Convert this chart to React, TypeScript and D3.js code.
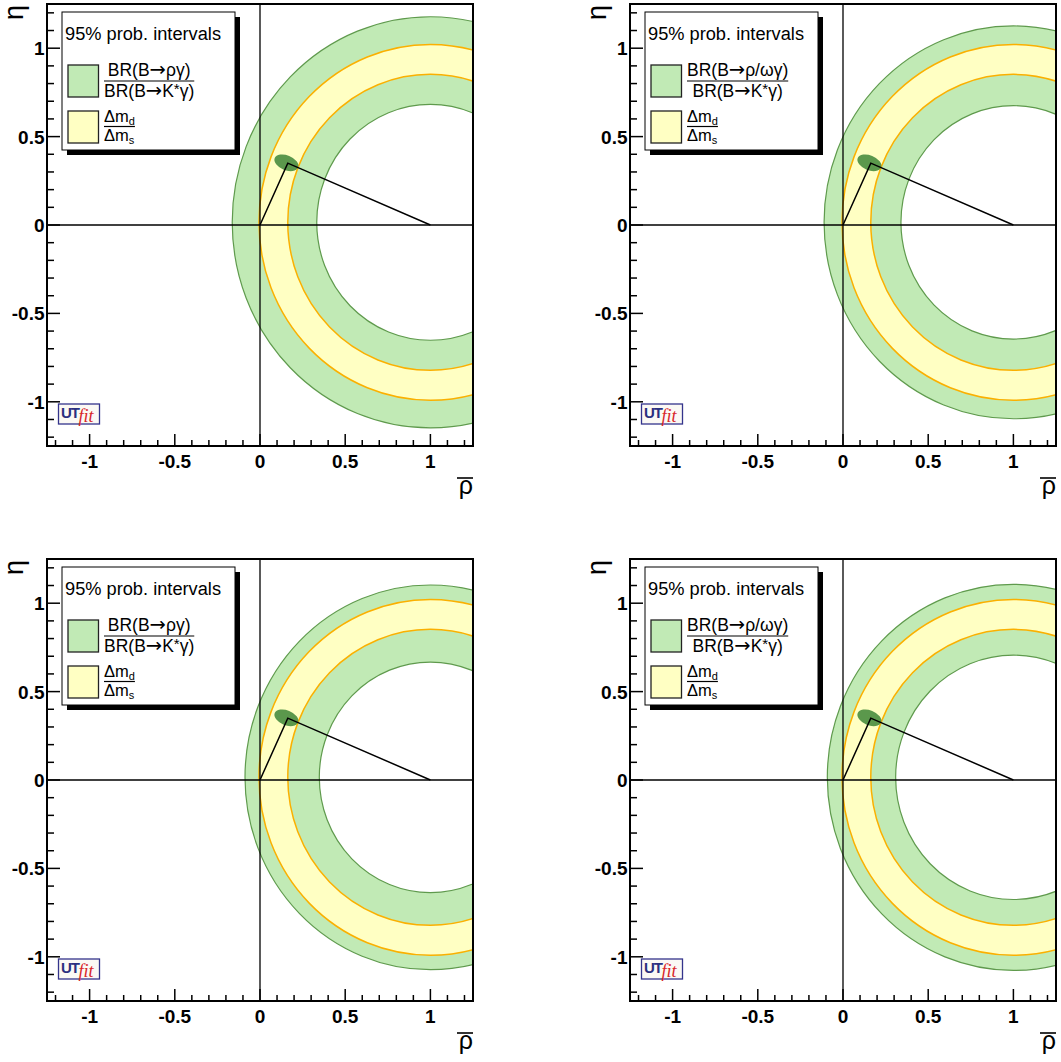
import React, { useEffect, useRef } from "react";
import * as d3 from "d3";

const W = 1061;
const H = 1062;

// ---- data ----
const panelNames = ["top-left", "top-right", "bottom-left", "bottom-right"];
const legendTitle = "95% prob. intervals";
const legendNumerators = [
  ["BR(B", "ργ)"],
  ["BR(B", "ρ/ωγ)"],
  ["BR(B", "ργ)"],
  ["BR(B", "ρ/ωγ)"],
];
const greenOuterR = [1.163, 1.111, 1.088, 1.092];
const greenInnerR = [0.667, 0.66, 0.652, 0.691];
const yellowOuterR = [1.006, 1.006, 1.006, 1.006];
const yellowInnerR = [0.837, 0.837, 0.837, 0.837];
const ringCenter = [1, 0.015];
const apex = [0.163, 0.35];
const blobCenter = [0.155, 0.352];
const blobRadii = [0.074, 0.042];
const blobTilt = 22;
const axisDomain = [-1.25, 1.25];
const majorTicks = [-1, -0.5, 0, 0.5, 1];
const tickLabels = ["-1", "-0.5", "0", "0.5", "1"];

// ---- layout ----
const frames = [
  { x0: 47, x1: 473, y0: 4, y1: 446 },
  { x0: 630, x1: 1056, y0: 4, y1: 446 },
  { x0: 47, x1: 473, y0: 559, y1: 1001 },
  { x0: 630, x1: 1056, y0: 559, y1: 1001 },
];

const GREEN = "#c1eab5";
const GREEN_LINE = "#5f9a4d";
const YELLOW = "#ffffc3";
const ORANGE = "#fbb000";
const BLOB = "#5b984c";
const FONT = "'Liberation Sans', Arial, Helvetica, sans-serif";
const ARROW_FONT = "'DejaVu Sans', sans-serif";

export default function App() {
  const ref = useRef<SVGSVGElement>(null);

  useEffect(() => {
    const svg = d3.select(ref.current);
    svg.selectAll("*").remove();
    const defs = svg.append("defs");

    panelNames.forEach((name, i) => {
      const f = frames[i];
      const x = d3.scaleLinear().domain(axisDomain).range([f.x0, f.x1]);
      const y = d3.scaleLinear().domain(axisDomain).range([f.y1, f.y0]);
      const clipId = `clip-${name}`;
      defs
        .append("clipPath")
        .attr("id", clipId)
        .append("rect")
        .attr("x", f.x0)
        .attr("y", f.y0)
        .attr("width", f.x1 - f.x0)
        .attr("height", f.y1 - f.y0);

      const g = svg.append("g");
      const inner = g.append("g").attr("clip-path", `url(#${clipId})`);

      const ring = (r: number, fill: string, stroke: string, sw: number) =>
        inner
          .append("ellipse")
          .attr("cx", x(ringCenter[0]))
          .attr("cy", y(ringCenter[1]))
          .attr("rx", x(r) - x(0))
          .attr("ry", y(0) - y(r))
          .attr("fill", fill)
          .attr("stroke", stroke)
          .attr("stroke-width", sw);

      ring(greenOuterR[i], GREEN, GREEN_LINE, 1.2);
      ring(yellowOuterR[i], YELLOW, ORANGE, 1.5);
      ring(yellowInnerR[i], GREEN, ORANGE, 1.5);
      ring(greenInnerR[i], "#ffffff", GREEN_LINE, 1.2);

      // zero lines
      inner
        .append("line")
        .attr("x1", f.x0)
        .attr("x2", f.x1)
        .attr("y1", y(0))
        .attr("y2", y(0))
        .attr("stroke", "#000")
        .attr("stroke-width", 1.3);
      inner
        .append("line")
        .attr("x1", x(0))
        .attr("x2", x(0))
        .attr("y1", f.y0)
        .attr("y2", f.y1)
        .attr("stroke", "#000")
        .attr("stroke-width", 1.3);

      // fit blob
      const bx = x(blobCenter[0]);
      const by = y(blobCenter[1]);
      inner
        .append("ellipse")
        .attr("cx", bx)
        .attr("cy", by)
        .attr("rx", x(blobRadii[0]) - x(0))
        .attr("ry", y(0) - y(blobRadii[1]))
        .attr("transform", `rotate(${blobTilt},${bx},${by})`)
        .attr("fill", BLOB);

      // triangle
      const tri = d3.line()([
        [x(0), y(0)],
        [x(apex[0]), y(apex[1])],
        [x(1), y(0)],
      ]);
      inner
        .append("path")
        .attr("d", tri)
        .attr("fill", "none")
        .attr("stroke", "#000")
        .attr("stroke-width", 1.5)
        .attr("stroke-linejoin", "miter");

      // frame
      g.append("rect")
        .attr("x", f.x0)
        .attr("y", f.y0)
        .attr("width", f.x1 - f.x0)
        .attr("height", f.y1 - f.y0)
        .attr("fill", "none")
        .attr("stroke", "#000")
        .attr("stroke-width", 2);

      // ticks
      const isMajor = (t: number) => Math.abs(t * 2 - Math.round(t * 2)) < 1e-6;
      x.ticks(25).forEach((t) => {
        g.append("line")
          .attr("x1", x(t))
          .attr("x2", x(t))
          .attr("y1", f.y1)
          .attr("y2", f.y1 - (isMajor(t) ? 12 : 6))
          .attr("stroke", "#000")
          .attr("stroke-width", 1.5);
      });
      y.ticks(25).forEach((t) => {
        g.append("line")
          .attr("y1", y(t))
          .attr("y2", y(t))
          .attr("x1", f.x0)
          .attr("x2", f.x0 + (isMajor(t) ? 13 : 7))
          .attr("stroke", "#000")
          .attr("stroke-width", 1.5);
      });
      majorTicks.forEach((t, k) => {
        g.append("text")
          .attr("x", x(t))
          .attr("y", f.y1 + 21.5)
          .attr("text-anchor", "middle")
          .attr("font-family", FONT)
          .attr("font-weight", "bold")
          .attr("font-size", 19)
          .text(tickLabels[k]);
        g.append("text")
          .attr("x", f.x0 - 2.5)
          .attr("y", y(t) + 7)
          .attr("text-anchor", "end")
          .attr("font-family", FONT)
          .attr("font-weight", "bold")
          .attr("font-size", 19)
          .text(tickLabels[k]);
      });

      // axis titles
      g.append("text")
        .attr("transform", `translate(${f.x0 - 24},${f.y0 + 1}) rotate(-90)`)
        .attr("text-anchor", "end")
        .attr("font-family", FONT)
        .attr("font-size", 27)
        .text("η");
      g.append("text")
        .attr("x", f.x1)
        .attr("y", f.y1 + 48)
        .attr("text-anchor", "end")
        .attr("font-family", FONT)
        .attr("font-size", 25)
        .text("ρ");
      g.append("line")
        .attr("x1", f.x1 - 16)
        .attr("x2", f.x1)
        .attr("y1", f.y1 + 32)
        .attr("y2", f.y1 + 32)
        .attr("stroke", "#000")
        .attr("stroke-width", 1.6);

      // legend
      const lx = f.x0 + 15;
      const ly = f.y0 + 8;
      const lw = 173;
      const lh = 138;
      g.append("rect").attr("x", lx + 5).attr("y", ly + 5).attr("width", lw).attr("height", lh).attr("fill", "#000");
      g.append("rect")
        .attr("x", lx)
        .attr("y", ly)
        .attr("width", lw)
        .attr("height", lh)
        .attr("fill", "#fff")
        .attr("stroke", "#000")
        .attr("stroke-width", 1);
      g.append("text")
        .attr("x", lx + 3)
        .attr("y", ly + 27.5)
        .attr("font-family", FONT)
        .attr("font-size", 18)
        .attr("textLength", 156)
        .attr("lengthAdjust", "spacingAndGlyphs")
        .text(legendTitle);
      g.append("rect")
        .attr("x", lx + 6)
        .attr("y", ly + 53)
        .attr("width", 30.5)
        .attr("height", 32)
        .attr("fill", GREEN)
        .attr("stroke", "#222")
        .attr("stroke-width", 1.3);
      g.append("rect")
        .attr("x", lx + 6)
        .attr("y", ly + 99)
        .attr("width", 30.5)
        .attr("height", 32)
        .attr("fill", YELLOW)
        .attr("stroke", "#222")
        .attr("stroke-width", 1.3);

      const fx = lx + 42;
      const FS = 17.5;
      const num = g
        .append("text")
        .attr("y", ly + 63.5)
        .attr("text-anchor", "middle")
        .attr("font-family", FONT)
        .attr("font-size", FS);
      num.append("tspan").text(legendNumerators[i][0]);
      num.append("tspan").attr("font-family", ARROW_FONT).attr("font-size", FS + 2).text("→");
      num.append("tspan").text(legendNumerators[i][1]);
      const den = g
        .append("text")
        .attr("y", ly + 85)
        .attr("text-anchor", "middle")
        .attr("font-family", FONT)
        .attr("font-size", FS);
      den.append("tspan").text("BR(B");
      den.append("tspan").attr("font-family", ARROW_FONT).attr("font-size", FS + 2).text("→");
      den.append("tspan").text("K");
      den.append("tspan").attr("dy", -3).attr("font-size", 15).text("*");
      den.append("tspan").attr("dy", 3).text("γ)");
      const wN = (num.node() as SVGTextElement).getComputedTextLength();
      const wD = (den.node() as SVGTextElement).getComputedTextLength();
      const wMax = Math.max(wN, wD);
      num.attr("x", fx + wMax / 2);
      den.attr("x", fx + wMax / 2);
      g.append("line")
        .attr("x1", fx)
        .attr("x2", fx + wMax)
        .attr("y1", ly + 69)
        .attr("y2", ly + 69)
        .attr("stroke", "#000")
        .attr("stroke-width", 1.2);

      const n2 = g.append("text").attr("x", fx).attr("y", ly + 109.5).attr("font-family", FONT).attr("font-size", 16.5);
      n2.append("tspan").text("Δm");
      n2.append("tspan").attr("dy", 3).attr("font-size", 11).text("d");
      const d2 = g.append("text").attr("x", fx).attr("y", ly + 128.5).attr("font-family", FONT).attr("font-size", 16.5);
      d2.append("tspan").text("Δm");
      d2.append("tspan").attr("dy", 3).attr("font-size", 11).text("s");
      const w2 = Math.max(
        (n2.node() as SVGTextElement).getComputedTextLength(),
        (d2.node() as SVGTextElement).getComputedTextLength()
      );
      g.append("line")
        .attr("x1", fx)
        .attr("x2", fx + w2)
        .attr("y1", ly + 114.5)
        .attr("y2", ly + 114.5)
        .attr("stroke", "#000")
        .attr("stroke-width", 1.2);

      // UTfit logo
      const gx = f.x0 + 11.5;
      const gy = f.y0 + 400;
      g.append("rect")
        .attr("x", gx)
        .attr("y", gy)
        .attr("width", 41)
        .attr("height", 20)
        .attr("fill", "#fbf9f4")
        .attr("stroke", "#34348c")
        .attr("stroke-width", 1.3);
      g.append("text")
        .attr("x", gx + 2.5)
        .attr("y", gy + 13.5)
        .attr("font-family", FONT)
        .attr("font-weight", "bold")
        .attr("font-size", 15)
        .attr("letter-spacing", -1)
        .attr("fill", "#2b3080")
        .text("UT");
      g.append("text")
        .attr("x", gx + 20)
        .attr("y", gy + 17.5)
        .attr("font-family", "'Liberation Serif', 'DejaVu Serif', serif")
        .attr("font-style", "italic")
        .attr("font-size", 18)
        .attr("fill", "#d8262a")
        .text("fit");
    });
  }, []);

  return (
    <svg
      ref={ref}
      width={W}
      height={H}
      style={{ position: "absolute", left: 0, top: 0, background: "#fff" }}
    />
  );
}
